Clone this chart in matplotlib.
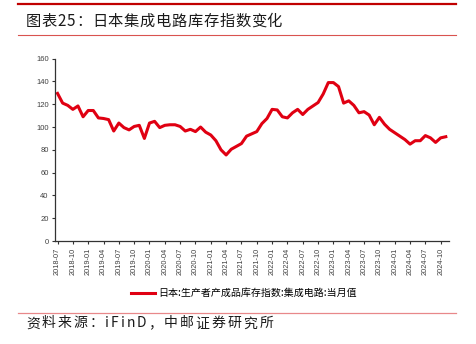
import numpy as np
import pandas as pd
import matplotlib
matplotlib.use('Agg')
import matplotlib.pyplot as plt
from matplotlib.lines import Line2D

plt.rcParams['font.family'] = ['Noto Sans CJK SC', 'DejaVu Sans']
plt.rcParams['axes.unicode_minus'] = False

# 日本集成电路库存指数 (当月值), 2018-07 ~ 2024-11
months = pd.date_range('2018-07-01', '2024-11-01', freq='MS').strftime('%Y-%m').tolist()
index_vals = [129.5, 121, 119, 115.5, 118.5, 109, 114.5, 114.5, 108, 107.5,
              106.5, 96.5, 103.5, 99.5, 97.5, 100.5, 101.5, 90, 103.5, 105,
              99.5, 101.5, 102, 102, 100.5, 96.5, 98, 96, 100, 95.5,
              93, 88, 80, 75.5, 80.5, 83, 85.5, 92, 94, 96,
              103, 107.5, 115.5, 115, 109, 108, 112.5, 115.5, 111, 115.5,
              118.5, 121.5, 129, 139, 139, 135.5, 121, 123, 119, 112.5,
              113.5, 110.5, 102, 108.5, 102.5, 98, 95, 92, 89, 85,
              88, 88, 92.5, 90.5, 86.5, 90.5, 91.5]
yticks = [0, 20, 40, 60, 80, 100, 120, 140, 160]
legend_label = '日本:生产者产成品库存指数:集成电路:当月值'
title = '图表25：日本集成电路库存指数变化'
source = '资料来源：iFinD，中邮证券研究所'

fig = plt.figure(figsize=(4.76, 3.44), dpi=100)
ax = fig.add_axes([0.1155, 0.2994, 0.8275, 0.5301])

x = np.arange(len(months))
ax.plot(x, index_vals, color='#E00012', linewidth=2.2, solid_joinstyle='round')

ax.set_xlim(-0.5, 76.6)
ax.set_ylim(0, 160)
ax.set_yticks(yticks)
ax.set_xticks(x[::3])
ax.set_xticklabels(months[::3], rotation=90, fontsize=5.3, family='Liberation Sans', color='#404040')
for lab in ax.get_yticklabels():
    lab.set_fontsize(5.5)
    lab.set_family('Liberation Sans')
    lab.set_color('#404040')
ax.tick_params(axis='both', length=2.5, width=0.8, color='#333333', pad=2)
for s in ['top', 'right']:
    ax.spines[s].set_visible(False)
for s in ['left', 'bottom']:
    ax.spines[s].set_color('#333333')
    ax.spines[s].set_linewidth(0.9)

# 图例
handle = Line2D([], [], color='#E00012', linewidth=2.2)
fig.legend([handle], [legend_label], loc='center', bbox_to_anchor=(0.513, 0.148),
           frameon=False, fontsize=7.2, handlelength=2.4, handletextpad=0.35)


def spaced_text(s, x0_px, x1_px, y_frac, size):
    # 按字排开, 使总宽度等于 x1_px - x0_px
    renderer = fig.canvas.get_renderer()
    texts, widths = [], []
    for ch in s:
        t = fig.text(0, y_frac, ch, fontsize=size, va='center', ha='left', color='#1a1a1a')
        widths.append(t.get_window_extent(renderer).width)
        texts.append(t)
    gap = ((x1_px - x0_px) - sum(widths)) / max(len(s) - 1, 1)
    pos = x0_px
    for t, w in zip(texts, widths):
        t.set_x(pos / fig.bbox.width)
        pos += w + gap


# 标题与装饰线
fig.add_artist(Line2D([0.038, 0.958], [0.987, 0.987], color='#C00000', linewidth=1.6))
spaced_text(title, 26, 282, 0.937, 11)
fig.add_artist(Line2D([0.038, 0.958], [0.898, 0.898], color='#D9534F', linewidth=0.8))
fig.add_artist(Line2D([0.038, 0.958], [0.09, 0.09], color='#E8888A', linewidth=0.9))
spaced_text(source, 26, 273, 0.06, 10)

fig.savefig('out.png', dpi=100)
